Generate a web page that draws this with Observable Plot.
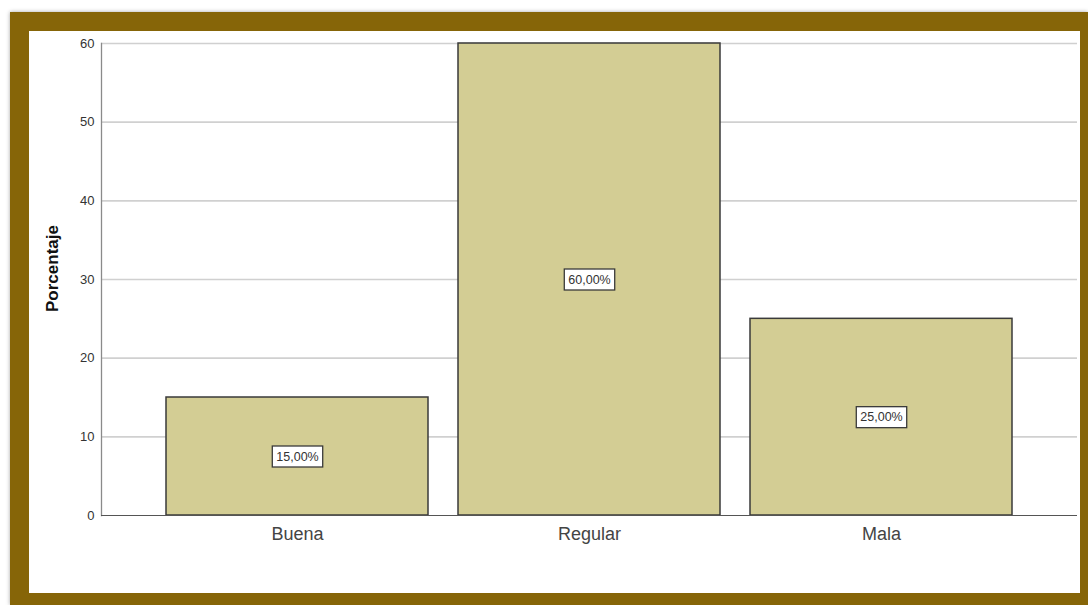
<!DOCTYPE html>
<html>
<head>
<meta charset="utf-8">
<script src="https://cdn.jsdelivr.net/npm/d3@7"></script>
<script src="https://cdn.jsdelivr.net/npm/@observablehq/plot@0.6"></script>
<style>
  html, body { margin: 0; padding: 0; background: #ffffff; width: 1088px; height: 605px; overflow: hidden; }
  #frame {
    position: absolute; left: 10px; top: 12px;
    width: 1051px; height: 562px;
    border-style: solid; border-color: #866508;
    border-width: 19px 8px 12px 19px;
    background: #ffffff;
    box-shadow: 0 0 4px rgba(0,0,0,0.35);
  }
  #chart { position: absolute; left: 0; top: 0; }
  svg { font-family: Arial, "Liberation Sans", sans-serif; }
</style>
</head>
<body>
<div id="frame"><div id="chart"></div></div>
<script>
const categories = ["Buena", "Regular", "Mala"];
const percentages = [15, 60, 25];
const valueLabels = ["15,00%", "60,00%", "25,00%"];
const yTicks = [0, 10, 20, 30, 40, 50, 60];

const data = categories.map((c, i) => ({ cat: c, pct: percentages[i], label: valueLabels[i] }));

const chart = Plot.plot({
  width: 1051,
  height: 562,
  marginLeft: 72,
  marginRight: 3,
  marginTop: 12,
  marginBottom: 78,
  style: { background: "transparent", fontFamily: "Arial, 'Liberation Sans', sans-serif" },
  x: { domain: categories, paddingInner: 0.102, paddingOuter: 0.218, label: null },
  y: { domain: [0, 60], label: null },
  marks: [
    Plot.gridY(yTicks.filter(d => d > 0), { stroke: "#d0d0d0", strokeOpacity: 1, strokeWidth: 1.6 }),
    Plot.frame({ anchor: "left", stroke: "#8a8a8a", strokeWidth: 1.3 }),
    Plot.barY(data, { x: "cat", y: "pct", fill: "#d3cd94", stroke: "#3a3a3a", strokeWidth: 1.5 }),
    Plot.ruleY([0], { stroke: "#555", strokeWidth: 1.2 }),
    Plot.axisY(yTicks, { tickSize: 0, tickPadding: 7, fontSize: 13, fill: "#333", anchor: "left" }),
    Plot.axisX({ tickSize: 0, tickPadding: 12, fontSize: 18, fill: "#444", anchor: "bottom" }),
    Plot.text(["Porcentaje"], { frameAnchor: "left", textAnchor: "middle", dx: -49, dy: -11, rotate: -90, fontSize: 17, fontWeight: "bold", fill: "#111" }),
    Plot.text(data, { x: "cat", y: d => d.pct / 2, text: "label", fontSize: 12.5, fill: "#333", className: "vlabel" })
  ]
});
document.getElementById("chart").appendChild(chart);

// white boxes behind the value labels
const svg = d3.select(chart);
svg.selectAll(".vlabel text").each(function () {
  const b = this.getBBox();
  const px = 4, py = 3.5;
  const r = document.createElementNS("http://www.w3.org/2000/svg", "rect");
  r.setAttribute("x", b.x - px);
  r.setAttribute("y", b.y - py);
  r.setAttribute("width", b.width + 2 * px);
  r.setAttribute("height", b.height + 2 * py);
  r.setAttribute("fill", "#ffffff");
  r.setAttribute("stroke", "#3a3a3a");
  r.setAttribute("stroke-width", "1.3");
  const t = this.getAttribute("transform");
  if (t) r.setAttribute("transform", t);
  this.parentNode.insertBefore(r, this);
});
</script>
</body>
</html>
